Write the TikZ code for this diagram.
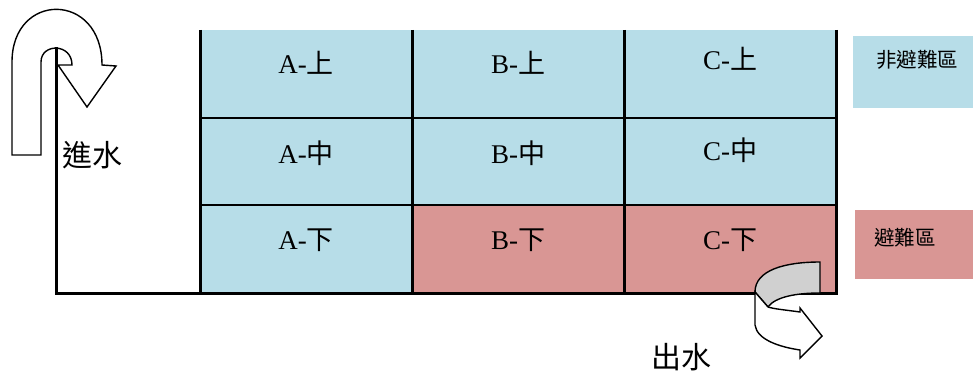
\documentclass[tikz,border=0pt]{standalone}
\usepackage{fontspec}
\setmainfont{Liberation Serif}
\newfontfamily\cjk{Noto Sans CJK TC}
\definecolor{aqua}{HTML}{B7DDE8}
\definecolor{rose}{HTML}{D99694}
\definecolor{fold}{HTML}{D0D0D0}
\begin{document}
\begin{tikzpicture}[x=1pt,y=-1pt,
  cell/.style={draw=none,minimum width=212pt,minimum height=88pt,inner sep=0pt,outer sep=0pt},
  lab/.style={inner sep=0pt,font=\fontsize{27}{30}\selectfont},
  bigtxt/.style={inner sep=0pt,font=\fontsize{30}{34}\selectfont},
  legtxt/.style={inner sep=0pt,font=\fontsize{20.5}{24}\selectfont,anchor=west},
  vline/.style={line width=3pt},
  hline/.style={line width=2.5pt},
  arrowshape/.style={draw=black,line width=1.4pt,line join=miter}]
\useasboundingbox (0,0) rectangle (973,374);
% cells
\node[cell,fill=aqua] (a1) at (306,74) {};
\node[cell,fill=aqua] (b1) at (518,74) {};
\node[cell,fill=aqua] (c1) at (730,74) {};
\node[cell,fill=aqua] (a2) at (306,161) {};
\node[cell,fill=aqua] (b2) at (518,161) {};
\node[cell,fill=aqua] (c2) at (730,161) {};
\node[cell,fill=aqua] (a3) at (306,249) {};
\node[cell,fill=rose] (b3) at (518,249) {};
\node[cell,fill=rose] (c3) at (730,249) {};
% labels
\node[lab] (ta1) at (306,63) {A-{\cjk 上}};
\node[lab] (tb1) at (518,63) {B-{\cjk 上}};
\node[lab] (tc1) at (730,59) {C-{\cjk 上}};
\node[lab] (ta2) at (306,153) {A-{\cjk 中}};
\node[lab] (tb2) at (518,153) {B-{\cjk 中}};
\node[lab] (tc2) at (730,150) {C-{\cjk 中}};
\node[lab] (ta3) at (306,240) {A-{\cjk 下}};
\node[lab] (tb3) at (518,240) {B-{\cjk 下}};
\node[lab] (tc3) at (730,240) {C-{\cjk 下}};
% legend
\node[fill=aqua,minimum width=120pt,minimum height=72pt,inner sep=0pt,anchor=north west] (leg1) at (853,36) {};
\node[legtxt] (leg1t) at (876,60) {\cjk 非避難區};
\node[fill=rose,minimum width=118pt,minimum height=69pt,inner sep=0pt,anchor=north west] (leg2) at (855,210) {};
\node[legtxt] (leg2t) at (874,238) {\cjk 避難區};
% inlet arrow
\draw[arrowshape,fill=white] (12,155) -- (12,62) .. controls (12,-8.7) and (102,-8.7) .. (102,65)
  -- (116,66) -- (87,107) -- (58,65) -- (72,65)
  .. controls (72,43) and (41,43) .. (41,62) -- (41,155) -- cycle;
\node[bigtxt] (inlet) at (92,155) {\cjk 進水};
% grid lines
\coordinate (start) at (56,49);
\draw[hline] (a1.south west) -- (c1.south east);
\draw[hline] (a2.south west) -- (c2.south east);
\draw[vline] (a1.north west) -- (a3.south west);
\draw[vline] (b1.north west) -- (b3.south west);
\draw[vline] (c1.north west) -- (c3.south west);
\draw[vline] (c1.north east) -- (c3.south east);
\draw[vline,line cap=rect] (start) |- (c3.south east);
% outlet arrow
\draw[arrowshape,fill=fold] (755,292) .. controls (755,270) and (785,262) .. (820,262)
  -- (820,293) .. controls (796,293) and (775,297) .. (768,307) -- cycle;
\draw[arrowshape,fill=white] (755,292) -- (755,325) .. controls (757,340) and (780,347) .. (800,350)
  -- (800,358) -- (822,336) -- (800,308) -- (800,312)
  .. controls (786,310) and (774,309) .. (768,307) -- cycle;
\node[bigtxt] (outlet) at (681,357) {\cjk 出水};
\end{tikzpicture}
\end{document}
